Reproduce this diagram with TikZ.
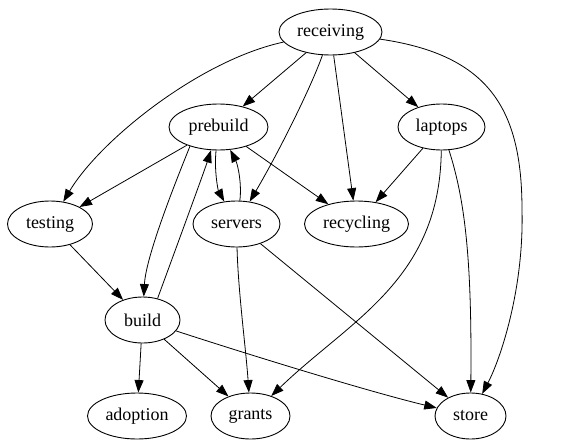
\documentclass[tikz,border=0pt]{standalone}
\usepackage{fontspec}
\setmainfont{Liberation Serif}
\usetikzlibrary{shapes.geometric,arrows.meta}
\begin{document}
\begin{tikzpicture}[x=1pt,y=-1pt,
  gnode/.style={ellipse,draw,line width=0.9pt,inner sep=0pt,minimum height=46pt,font=\fontsize{18}{20}\selectfont},
  edge/.style={line width=0.8pt,-{Triangle[length=12.5pt,width=9pt]}}]
\useasboundingbox (0,0) rectangle (567,447);
\node[gnode,minimum width=103pt] (rec) at (330.5,32) {receiving};
\node[gnode,minimum width=99pt] (pre) at (218.5,127) {prebuild};
\node[gnode,minimum width=87pt] (lap) at (441.5,127) {laptops};
\node[gnode,minimum width=85pt] (tes) at (50,224) {testing};
\node[gnode,minimum width=87pt] (ser) at (236.5,224) {servers};
\node[gnode,minimum width=104pt] (rcy) at (356.5,224) {recycling};
\node[gnode,minimum width=75pt] (bui) at (142.5,320) {build};
\node[gnode,minimum width=99pt] (ado) at (137,416) {adoption};
\node[gnode,minimum width=79pt] (gra) at (250.5,416) {grants};
\node[gnode,minimum width=71pt] (sto) at (470.5,416) {store};
% receiving
\draw[edge] (rec) -- (pre);
\draw[edge] (rec) -- (lap);
\draw[edge] (rec) .. controls (200,60) and (100,140) .. (tes);
\draw[edge] (rec) .. controls (312,85) and (280,150) .. (ser);
\draw[edge] (rec) -- (rcy);
\draw[edge] (rec) .. controls (490,55) and (522,110) .. (522,210) .. controls (524,290) and (500,360) .. (sto);
% prebuild
\draw[edge] (pre) -- (tes);
\draw[edge] (pre) .. controls (214,170) and (218,190) .. (ser);
\draw[edge] (ser) .. controls (242,185) and (238,165) .. (pre);
\draw[edge] (pre) -- (rcy);
\draw[edge] (pre.214) .. controls (178,176) and (146,255) .. (bui);
\draw[edge] (bui.55) .. controls (168,270) and (204,172) .. (pre);
% laptops
\draw[edge] (lap) -- (rcy);
\draw[edge] (lap) .. controls (440,280) and (350,320) .. (gra);
\draw[edge] (lap) .. controls (465,200) and (472,260) .. (sto);
% others
\draw[edge] (tes) -- (bui);
\draw[edge] (ser) .. controls (238,290) and (246,350) .. (gra);
\draw[edge] (ser) -- (sto);
\draw[edge] (bui) -- (ado);
\draw[edge] (bui) -- (gra);
\draw[edge] (bui) .. controls (250,355) and (370,392) .. (sto);
\end{tikzpicture}
\end{document}
